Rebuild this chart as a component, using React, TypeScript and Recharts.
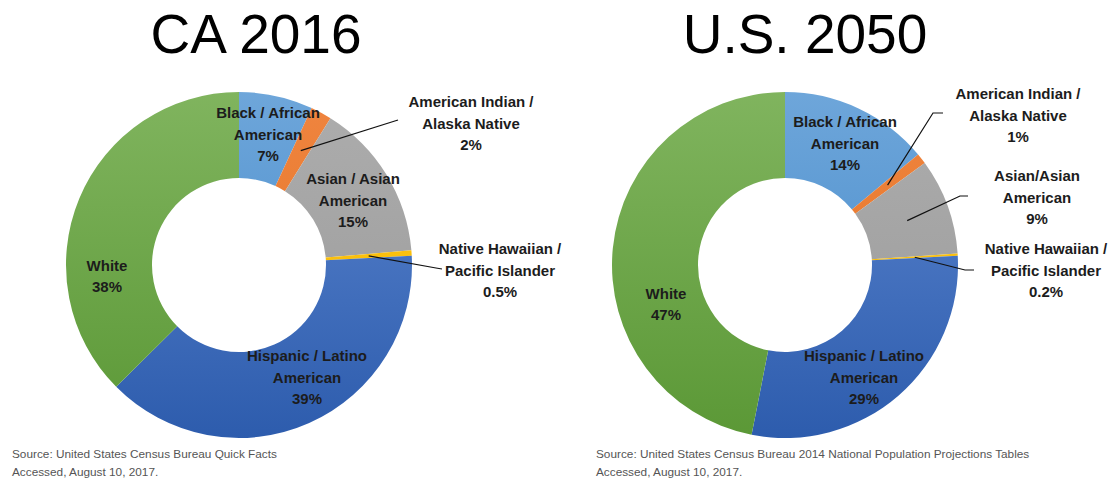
import * as React from "react";
import { PieChart, Pie, Cell } from "recharts";

// categories in clockwise order from 12 o'clock
const categories = [
  "Black / African American",
  "American Indian / Alaska Native",
  "Asian / Asian American",
  "Native Hawaiian / Pacific Islander",
  "Hispanic / Latino American",
  "White",
];

const caValues = [7, 2, 15, 0.5, 39, 38];
const usValues = [14, 1, 9, 0.2, 29, 47];

const caLabels = [
  ["Black / African", "American"],
  ["American Indian /", "Alaska Native"],
  ["Asian / Asian", "American"],
  ["Native Hawaiian /", "Pacific Islander"],
  ["Hispanic / Latino", "American"],
  ["White"],
];
const usLabels = [
  ["Black / African", "American"],
  ["American Indian /", "Alaska Native"],
  ["Asian/Asian", "American"],
  ["Native Hawaiian /", "Pacific Islander"],
  ["Hispanic / Latino", "American"],
  ["White"],
];

const titles = ["CA 2016", "U.S. 2050"];
const sources = [
  ["Source: United States Census Bureau Quick Facts", "Accessed, August 10, 2017."],
  ["Source: United States Census Bureau 2014 National Population Projections Tables", "Accessed, August 10, 2017."],
];

// gradient top / bottom per category
const colors = [
  ["#6ea6da", "#3f86c8"],
  ["#f08540", "#e0701f"],
  ["#adadad", "#999999"],
  ["#ffc619", "#f5b800"],
  ["#5d87d0", "#2d5cad"],
  ["#80b45e", "#5b9836"],
];

// label block centre (dx, dy) from pie centre, optional leader line points
type Place = { dx: number; dy: number; leader?: [number, number][] };
const caPlace: Place[] = [
  { dx: 29, dy: -131 },
  { dx: 232, dy: -142, leader: [[159, -145]] },
  { dx: 114, dy: -65 },
  { dx: 261, dy: 5, leader: [[197, 3], [203, 4]] },
  { dx: 68, dy: 112 },
  { dx: -132, dy: 11 },
];
const usPlace: Place[] = [
  { dx: 60, dy: -122 },
  { dx: 233, dy: -150, leader: [[148, -152], [158, -152]] },
  { dx: 252, dy: -68, leader: [[175, -69], [183, -69]] },
  { dx: 261, dy: 5, leader: [[180, 5], [189, 5]] },
  { dx: 79, dy: 112 },
  { dx: -119, dy: 39 },
];

const RAD = Math.PI / 180;
const LINE_H = 21.5;

const makeLabel = (labels: string[][], place: Place[]) => (props: any) => {
  const { cx, cy, midAngle, innerRadius, outerRadius, index, value } = props;
  const p = place[index];
  const lines = [...labels[index], `${value}%`];
  const top = cy + p.dy - ((lines.length - 1) * LINE_H) / 2;
  let leader = null;
  if (p.leader) {
    const r = (innerRadius + outerRadius) / 2;
    const sx = cx + r * Math.cos(-midAngle * RAD);
    const sy = cy + r * Math.sin(-midAngle * RAD);
    const pts = [[sx, sy], ...p.leader.map(([x, y]) => [cx + x, cy + y])];
    leader = (
      <polyline points={pts.map((q) => q.join(",")).join(" ")} fill="none" stroke="#111" strokeWidth={1.2} />
    );
  }
  return (
    <g key={`lbl-${index}`}>
      {leader}
      {lines.map((t, i) => (
        <text
          key={i}
          x={cx + p.dx}
          y={top + i * LINE_H}
          textAnchor="middle"
          dominantBaseline="central"
          fontFamily="Liberation Sans, Arial, sans-serif"
          fontWeight="bold"
          fontSize={15}
          fill="#1c1c1c"
        >
          {t}
        </text>
      ))}
    </g>
  );
};

const caData = categories.map((name, i) => ({ name, value: caValues[i] }));
const usData = categories.map((name, i) => ({ name, value: usValues[i] }));

const CX = [239, 785];
const CY = 265;
const INNER = 87;
const OUTER = 173;

export default function App() {
  return (
    <div style={{ position: "absolute", left: 0, top: 0, width: 1114, height: 479, background: "#fff" }}>
      <PieChart width={1114} height={479} margin={{ top: 0, right: 0, bottom: 0, left: 0 }}>
        <defs>
          {colors.map(([a, b], i) => (
            <linearGradient key={i} id={`grad${i}`} gradientUnits="userSpaceOnUse" x1="0" y1={CY - OUTER} x2="0" y2={CY + OUTER}>
              <stop offset="0%" stopColor={a} />
              <stop offset="100%" stopColor={b} />
            </linearGradient>
          ))}
        </defs>
        <Pie
          data={caData}
          dataKey="value"
          nameKey="name"
          cx={CX[0]}
          cy={CY}
          innerRadius={INNER}
          outerRadius={OUTER}
          startAngle={90}
          endAngle={-270}
          stroke="none"
          labelLine={false}
          label={makeLabel(caLabels, caPlace)}
          isAnimationActive={false}
        >
          {caData.map((d, i) => (
            <Cell key={d.name} fill={`url(#grad${i})`} />
          ))}
        </Pie>
        <Pie
          data={usData}
          dataKey="value"
          nameKey="name"
          cx={CX[1]}
          cy={CY}
          innerRadius={INNER}
          outerRadius={OUTER}
          startAngle={90}
          endAngle={-270}
          stroke="none"
          labelLine={false}
          label={makeLabel(usLabels, usPlace)}
          isAnimationActive={false}
        >
          {usData.map((d, i) => (
            <Cell key={d.name} fill={`url(#grad${i})`} />
          ))}
        </Pie>
        <text x={256} y={53} textAnchor="middle" fontFamily="Liberation Sans, Arial, sans-serif" fontSize={55} fill="#000">
          {titles[0]}
        </text>
        <text x={805} y={53} textAnchor="middle" fontFamily="Liberation Sans, Arial, sans-serif" fontSize={55} fill="#000">
          {titles[1]}
        </text>
        {sources.map((src, k) =>
          src.map((t, i) => (
            <text
              key={`${k}-${i}`}
              x={k === 0 ? 12 : 596}
              y={458 + i * 18}
              fontFamily="Liberation Sans, Arial, sans-serif"
              fontSize={11.8}
              fill="#555"
            >
              {t}
            </text>
          ))
        )}
      </PieChart>
    </div>
  );
}
